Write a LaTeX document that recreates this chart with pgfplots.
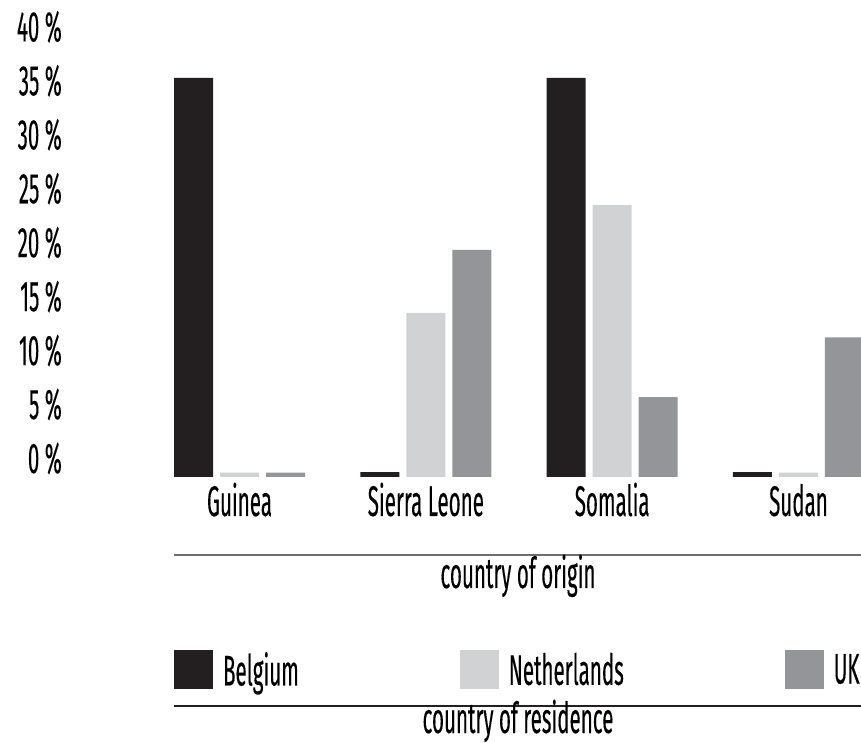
\documentclass[border=0pt]{standalone}
\usepackage{pgfplots}
\pgfplotsset{compat=1.18}
\usepackage{fontspec}
\setmainfont{Fira Sans}[FakeStretch=0.48, FakeBold=0.2]
\definecolor{cBE}{HTML}{231F20}
\definecolor{cNL}{HTML}{D1D2D4}
\definecolor{cUK}{HTML}{939598}
\definecolor{cline}{HTML}{6D6E71}
\newcommand{\bigfont}{\fontsize{43}{46}\selectfont}

\begin{document}
\begin{tikzpicture}
\useasboundingbox (0bp,0bp) rectangle (861bp,743bp);
\begin{axis}[
    at={(72bp,266bp)}, anchor=south west,
    width=789bp, height=477bp, scale only axis,
    xmin=-0.899, xmax=3.3355, ymin=0, ymax=44.21,
    ybar=7bp, bar width=39bp,
    axis line style={draw=none}, major tick length=0pt,
    xtick={0,1,2,3},
    xticklabels={Guinea,Sierra Leone,Somalia,Sudan},
    ytick={0,5,10,15,20,25,30,35,40},
    yticklabels={0 \%,5 \%,10 \%,15 \%,20 \%,25 \%,30 \%,35 \%,40 \%},
    xticklabel style={font=\bigfont, anchor=base, inner sep=0pt, yshift=-39bp},
    yticklabel style={font=\bigfont, anchor=base east, inner sep=0pt, xshift=-10bp, yshift=4bp},
    legend columns=3,
    legend style={draw=none, fill=none, inner sep=0pt, outer sep=0pt,
        at={(0.1293,-0.4036)}, anchor=west, font=\bigfont,
        nodes={inner sep=0pt},
        /tikz/every odd column/.append style={column sep=10bp},
        /tikz/every even column/.append style={column sep=161bp}},
    legend image code/.code={\fill[#1] (0bp,-19.5bp) rectangle (39bp,19.5bp);},
]
%% Belgium
\addplot[fill=cBE, draw=none] coordinates {(0,36.98) (1,0.45) (2,36.98) (3,0.45)};
%% Netherlands
\addplot[fill=cNL, draw=none] coordinates {(0,0.4) (1,15.2) (2,25.2) (3,0.4)};
%% UK
\addplot[fill=cUK, draw=none] coordinates {(0,0.4) (1,21.05) (2,7.4) (3,12.95)};
\legend{Belgium,Netherlands,UK}
\end{axis}
\draw[cline, line width=1.5bp] (174bp,188bp) -- (861bp,188bp);
\node[font=\bigfont, anchor=base, inner sep=0pt] at (518bp,155bp) {country of origin};
\draw[cBE, line width=1.5bp] (174bp,37bp) -- (861bp,37bp);
\node[font=\bigfont, anchor=base, inner sep=0pt] at (518bp,10bp) {country of residence};
\end{tikzpicture}
\end{document}
